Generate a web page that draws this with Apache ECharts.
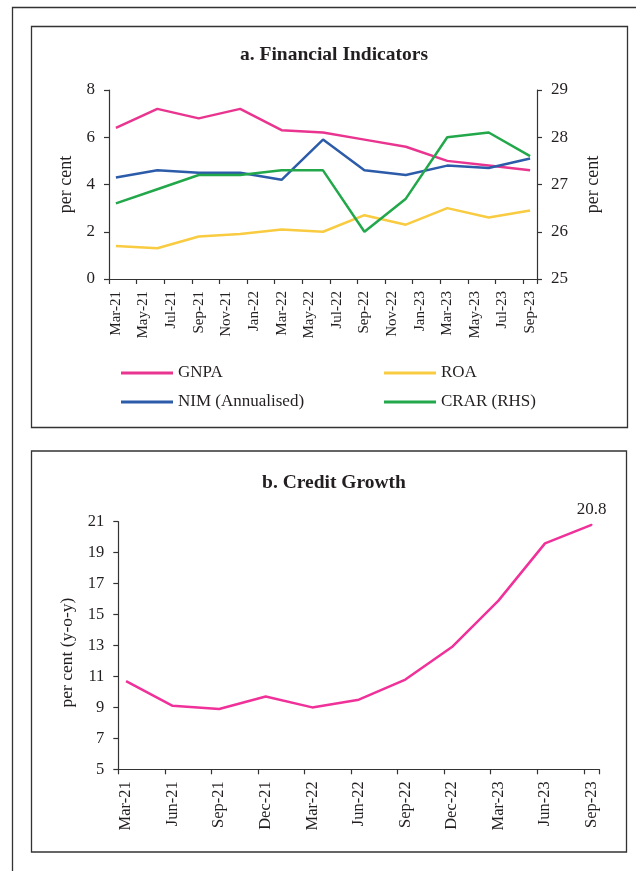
<!DOCTYPE html>
<html>
<head>
<meta charset="utf-8">
<script src="https://cdn.jsdelivr.net/npm/echarts@6/dist/echarts.min.js"></script>
<style>
html,body{margin:0;padding:0;background:#fff;}
#c{width:636px;height:871px;}
</style>
</head>
<body>
<div id="c"></div>
<script>
// Monthly category axis (Mar-21 .. Sep-23)
var months = ['Mar-21','Apr-21','May-21','Jun-21','Jul-21','Aug-21','Sep-21','Oct-21','Nov-21','Dec-21',
  'Jan-22','Feb-22','Mar-22','Apr-22','May-22','Jun-22','Jul-22','Aug-22','Sep-22','Oct-22','Nov-22','Dec-22',
  'Jan-23','Feb-23','Mar-23','Apr-23','May-23','Jun-23','Jul-23','Aug-23','Sep-23'];
// Quarterly observations
var quarters = ['Mar-21','Jun-21','Sep-21','Dec-21','Mar-22','Jun-22','Sep-22','Dec-22','Mar-23','Jun-23','Sep-23'];

// Panel a: Financial Indicators
var gnpa = [6.4, 7.2, 6.8, 7.2, 6.3, 6.2, 5.9, 5.6, 5.0, 4.8, 4.6];
var roa  = [1.4, 1.3, 1.8, 1.9, 2.1, 2.0, 2.7, 2.3, 3.0, 2.6, 2.9];
var nim  = [4.3, 4.6, 4.5, 4.5, 4.2, 5.9, 4.6, 4.4, 4.8, 4.7, 5.1];
var crar = [26.6, 26.9, 27.2, 27.2, 27.3, 27.3, 26.0, 26.7, 28.0, 28.1, 27.6];

// Panel b: Credit Growth (per cent, y-o-y)
var credit = [10.7, 9.1, 8.9, 9.7, 9.0, 9.5, 10.8, 12.9, 15.9, 19.6, 20.8];
var creditTicks = [5, 7, 9, 11, 13, 15, 17, 19, 21];

var FONT = 'Liberation Serif';
var TXT = '#231f20';
var AX = '#333333';

function toMonthly(vals) {
  return months.map(function (m) {
    var i = quarters.indexOf(m);
    return i >= 0 ? vals[i] : null;
  });
}

var creditData = toMonthly(credit).map(function (v, i) {
  if (v === null) return null;
  var lastIdx = months.indexOf(quarters[quarters.length - 1]);
  if (i === lastIdx) {
    return { value: v, symbol: 'circle', symbolSize: 2,
      label: { show: true, position: 'top', distance: 6, color: TXT,
        fontFamily: FONT, fontSize: 17, formatter: function (p) { return p.value; } } };
  }
  return v;
});

var chart = echarts.init(document.getElementById('c'), null, { renderer: 'canvas' });

var axisLineStyle = { show: true, lineStyle: { color: AX, width: 1.2 } };
var tickStyle = { show: true, length: 5, lineStyle: { color: AX, width: 1.2 } };

var option = {
  backgroundColor: '#ffffff',
  animation: false,
  textStyle: { fontFamily: FONT, color: TXT },
  graphic: [
    { type: 'rect', shape: { x: 12.5, y: 7.5, width: 700, height: 900 }, style: { fill: 'none', stroke: '#333', lineWidth: 1.3 }, silent: true },
    { type: 'rect', shape: { x: 31.5, y: 26.5, width: 596, height: 401 }, style: { fill: 'none', stroke: '#333', lineWidth: 1.3 }, silent: true },
    { type: 'rect', shape: { x: 31.5, y: 451, width: 595, height: 401 }, style: { fill: 'none', stroke: '#333', lineWidth: 1.3 }, silent: true }
  ],
  title: [
    { text: 'a. Financial Indicators', left: 329, top: 40, textAlign: 'center',
      textStyle: { fontFamily: FONT, fontWeight: 'bold', fontSize: 19.5, color: TXT } },
    { text: 'b. Credit Growth', left: 329, top: 468, textAlign: 'center',
      textStyle: { fontFamily: FONT, fontWeight: 'bold', fontSize: 19.5, color: TXT } }
  ],
  legend: [
    { left: 116, top: 358, orient: 'vertical', itemWidth: 52, itemHeight: 3, itemGap: 9, icon: 'rect',
      data: ['GNPA', 'NIM (Annualised)'],
      textStyle: { fontFamily: FONT, fontSize: 17, color: TXT, lineHeight: 20 } },
    { left: 379, top: 358, orient: 'vertical', itemWidth: 52, itemHeight: 3, itemGap: 9, icon: 'rect',
      data: ['ROA', 'CRAR (RHS)'],
      textStyle: { fontFamily: FONT, fontSize: 17, color: TXT, lineHeight: 20 } }
  ],
  grid: [
    { left: 109, right: 99, top: 90, height: 189 },
    { left: 118.3, right: 36.7, top: 521.7, height: 247.6 }
  ],
  xAxis: [
    { type: 'category', gridIndex: 0, data: months, boundaryGap: true,
      axisLine: axisLineStyle, axisTick: { show: true, length: 5, interval: 1, lineStyle: { color: AX, width: 1.2 } },
      axisLabel: { interval: 1, rotate: 90, margin: 12, fontFamily: FONT, fontSize: 15, color: TXT },
      splitLine: { show: false } },
    { type: 'category', gridIndex: 1, data: months, boundaryGap: true,
      axisLine: axisLineStyle, axisTick: { show: true, length: 5, interval: 2, lineStyle: { color: AX, width: 1.2 } },
      axisLabel: { interval: 2, rotate: 90, margin: 12, fontFamily: FONT, fontSize: 16.5, color: TXT },
      splitLine: { show: false } }
  ],
  yAxis: [
    { type: 'value', gridIndex: 0, min: 0, max: 8, interval: 2, position: 'left',
      name: 'per cent', nameLocation: 'middle', nameGap: 33, nameRotate: 90,
      nameTextStyle: { fontFamily: FONT, fontSize: 18, color: TXT },
      axisLine: axisLineStyle, axisTick: tickStyle,
      axisLabel: { margin: 14, fontFamily: FONT, fontSize: 17, color: TXT },
      splitLine: { show: false } },
    { type: 'value', gridIndex: 0, min: 25, max: 29, interval: 1, position: 'right',
      name: 'per cent', nameLocation: 'middle', nameGap: 47, nameRotate: 90,
      nameTextStyle: { fontFamily: FONT, fontSize: 18, color: TXT },
      axisLine: axisLineStyle, axisTick: tickStyle,
      axisLabel: { margin: 14, fontFamily: FONT, fontSize: 17, color: TXT },
      splitLine: { show: false } },
    { type: 'value', gridIndex: 1, min: 5, max: 21, position: 'left',
      name: 'per cent (y-o-y)', nameLocation: 'middle', nameGap: 42, nameRotate: 90,
      nameTextStyle: { fontFamily: FONT, fontSize: 17.5, color: TXT, padding: [0, 14, 0, 0] },
      axisLine: axisLineStyle,
      axisTick: { show: true, length: 5, customValues: creditTicks, lineStyle: { color: AX, width: 1.2 } },
      axisLabel: { margin: 14, customValues: creditTicks, fontFamily: FONT, fontSize: 16.5, color: TXT },
      splitLine: { show: false } }
  ],
  series: [
    { name: 'GNPA', type: 'line', xAxisIndex: 0, yAxisIndex: 0, data: toMonthly(gnpa), connectNulls: true,
      showSymbol: false, symbol: 'none', color: '#E9358F', lineStyle: { width: 2.5, color: '#E9358F' } },
    { name: 'ROA', type: 'line', xAxisIndex: 0, yAxisIndex: 0, data: toMonthly(roa), connectNulls: true,
      showSymbol: false, symbol: 'none', color: '#F9CB40', lineStyle: { width: 2.5, color: '#F9CB40' } },
    { name: 'NIM (Annualised)', type: 'line', xAxisIndex: 0, yAxisIndex: 0, data: toMonthly(nim), connectNulls: true,
      showSymbol: false, symbol: 'none', color: '#2C5CA9', lineStyle: { width: 2.5, color: '#2C5CA9' } },
    { name: 'CRAR (RHS)', type: 'line', xAxisIndex: 0, yAxisIndex: 1, data: toMonthly(crar), connectNulls: true,
      showSymbol: false, symbol: 'none', color: '#22A84A', lineStyle: { width: 2.5, color: '#22A84A' } },
    { name: 'Credit Growth', type: 'line', xAxisIndex: 1, yAxisIndex: 2, data: creditData, connectNulls: true,
      showSymbol: true, symbol: 'none', color: '#F0319A', lineStyle: { width: 2.5, color: '#F0319A' } }
  ]
};
chart.setOption(option);
</script>
</body>
</html>
